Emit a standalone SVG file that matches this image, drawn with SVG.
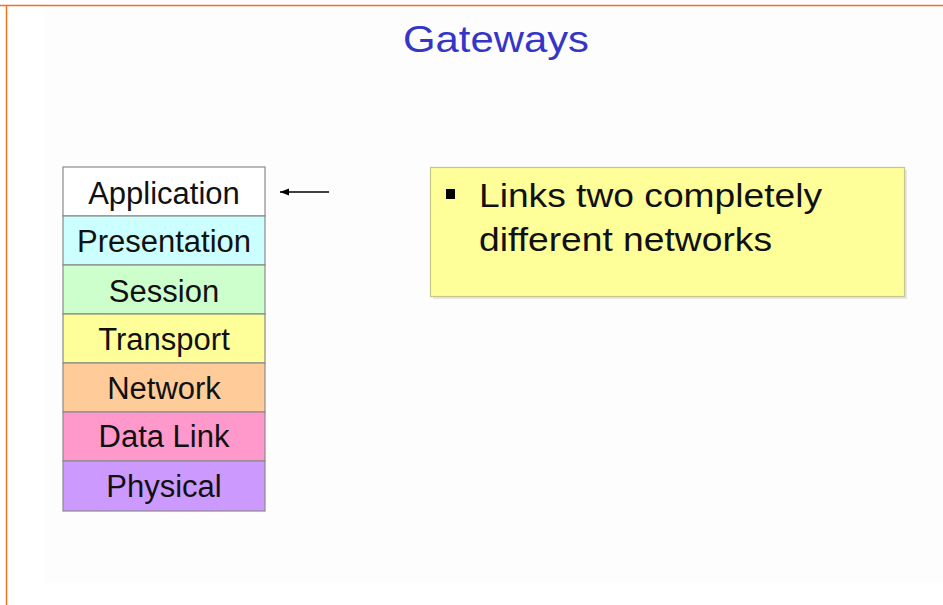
<svg xmlns="http://www.w3.org/2000/svg" width="943" height="605" viewBox="0 0 943 605">
<style>
  .layer rect { stroke: #8a8a8a; stroke-width: 1.2; }
  .layer text { font-family: "Liberation Sans", Arial, sans-serif; font-size: 31px; fill: #111; text-anchor: middle; }
  .note text { font-family: "Liberation Sans", Arial, sans-serif; font-size: 34px; fill: #111; }
  .title { font-family: "Liberation Sans", Arial, sans-serif; font-size: 37px; fill: #3535c8; }
</style>
<defs>
  <marker id="ah" markerWidth="10" markerHeight="8" refX="9" refY="4" orient="auto" markerUnits="userSpaceOnUse">
    <path d="M0,0.5 L9,4 L0,7.5 Z" fill="#000"/>
  </marker>
</defs>
<rect x="0" y="0" width="943" height="605" fill="#ffffff"/>
<rect x="44" y="6" width="899" height="577" fill="#fdfdfd"/>
<line x1="0" y1="5.5" x2="943" y2="5.5" stroke="#f07020" stroke-width="1.5"/>
<line x1="6.5" y1="5" x2="6.5" y2="605" stroke="#f07020" stroke-width="1.5"/>

<text id="title" class="title" x="403" y="52" textLength="186" lengthAdjust="spacingAndGlyphs">Gateways</text>

<g id="stack">
  <g id="application" class="layer"><rect x="63" y="167" width="202" height="49" fill="#ffffff"/><text x="164" y="204">Application</text></g>
  <g id="presentation" class="layer"><rect x="63" y="216" width="202" height="49" fill="#ccffff"/><text x="164" y="252">Presentation</text></g>
  <g id="session" class="layer"><rect x="63" y="265" width="202" height="49" fill="#ccffcc"/><text x="164" y="302">Session</text></g>
  <g id="transport" class="layer"><rect x="63" y="314" width="202" height="49" fill="#ffff99"/><text x="164" y="350">Transport</text></g>
  <g id="network" class="layer"><rect x="63" y="363" width="202" height="49" fill="#ffcc99"/><text x="164" y="399">Network</text></g>
  <g id="datalink" class="layer"><rect x="63" y="412" width="202" height="49" fill="#ff99cc"/><text x="164" y="447">Data Link</text></g>
  <g id="physical" class="layer"><rect x="63" y="461" width="202" height="50" fill="#cc99ff"/><text x="164" y="497">Physical</text></g>
</g>

<g id="connectors">
  <line x1="329" y1="192" x2="280" y2="192" stroke="#000" stroke-width="1.3" marker-end="url(#ah)"/>
</g>

<g id="note" class="note">
  <rect x="433" y="170" width="474" height="129" fill="#e6e6e6"/>
  <rect x="430.5" y="167.5" width="474" height="129" fill="#ffff99" stroke="#c6c68a" stroke-width="1.2"/>
  <rect x="446" y="189" width="9" height="10" fill="#000"/>
  <text x="479" y="207" textLength="343" lengthAdjust="spacingAndGlyphs">Links two completely</text>
  <text x="479" y="251" textLength="293" lengthAdjust="spacingAndGlyphs">different networks</text>
</g>
</svg>
